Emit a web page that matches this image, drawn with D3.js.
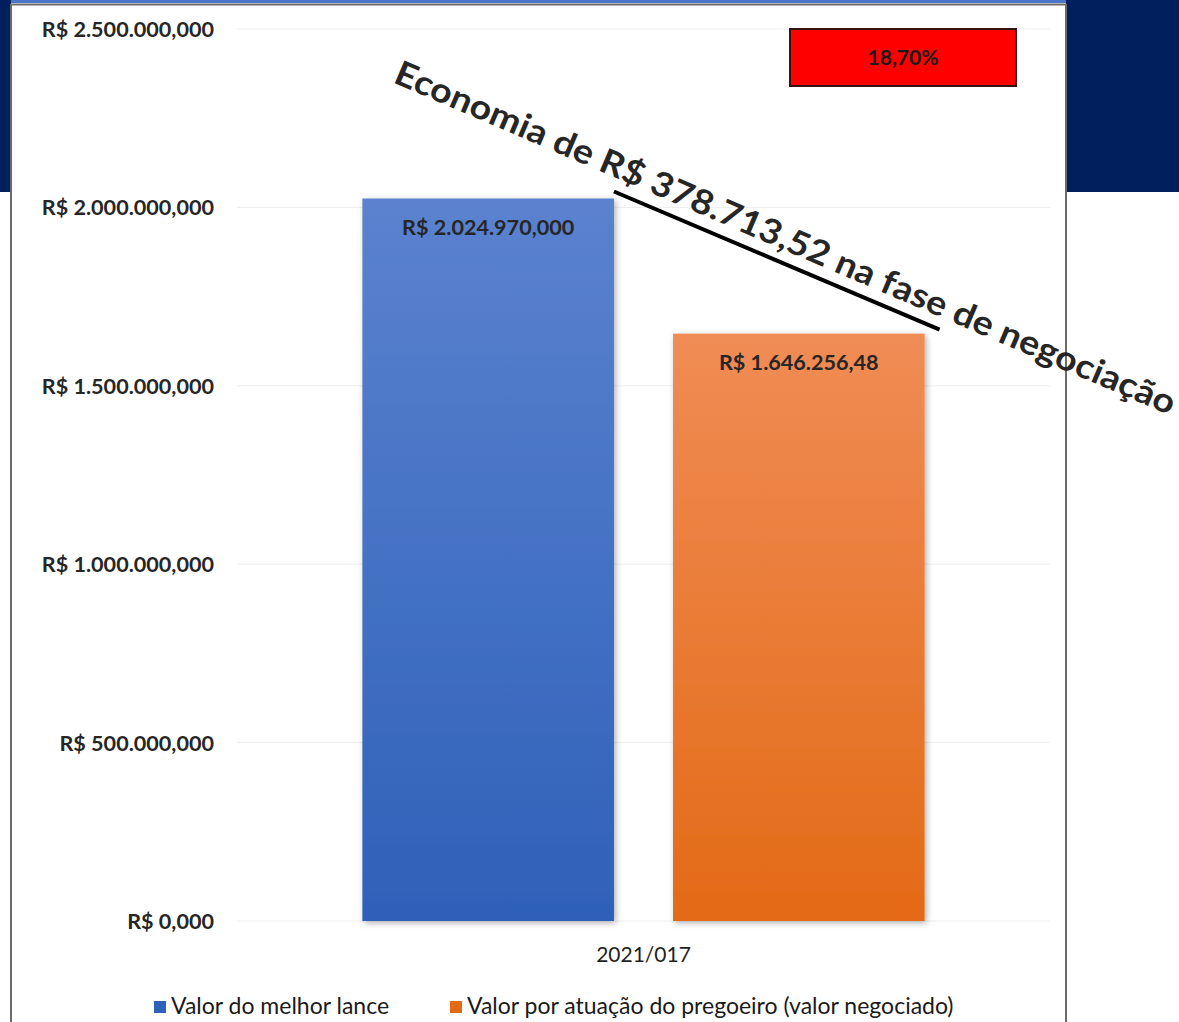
<!DOCTYPE html>
<html>
<head>
<meta charset="utf-8">
<script src="https://cdn.jsdelivr.net/npm/d3@7"></script>
<style>
  body { margin: 0; background: #fff; }
  svg { display: block; font-family: Lato, "Open Sans", sans-serif; }
</style>
</head>
<body>
<div id="chart"></div>
<script>
// chart values
const categories = ["2021/017"];
const seriesNames = ["Valor do melhor lance", "Valor por atuação do pregoeiro (valor negociado)"];
const seriesValues = [2024970000, 1646256480];
const barLabels = ["R$ 2.024.970,000", "R$ 1.646.256,48"];
const yTicks = [0, 500000000, 1000000000, 1500000000, 2000000000, 2500000000];
const yTickLabels = ["R$ 0,000", "R$ 500.000,000", "R$ 1.000.000,000", "R$ 1.500.000,000", "R$ 2.000.000,000", "R$ 2.500.000,000"];
const percentLabel = "18,70%";
const annotation = "Economia de R$ 378.713,52 na fase de negociação";

const W = 1179, H = 1022;
const margin = {top: 29, right: 129, bottom: 101, left: 237};

const svg = d3.select("#chart")
    .append("svg")
        .attr("width", W)
        .attr("height", H);

// background slide pieces
svg.append("rect").attr("x", 0).attr("y", 0).attr("width", W).attr("height", 192).attr("fill", "#001f5c");
svg.append("rect").attr("x", 11).attr("y", 0).attr("width", 1055).attr("height", H).attr("fill", "#fff");
svg.append("rect").attr("x", 11).attr("y", 0).attr("width", 1055).attr("height", 3).attr("fill", "#4a74c9");
svg.append("line").attr("x1", 11).attr("x2", 1066).attr("y1", 4.5).attr("y2", 4.5).attr("stroke", "#6b6b6b").attr("stroke-width", 2);
svg.append("line").attr("x1", 11).attr("x2", 11).attr("y1", 4).attr("y2", H).attr("stroke", "#6b6b6b").attr("stroke-width", 2);
svg.append("line").attr("x1", 1066).attr("x2", 1066).attr("y1", 4).attr("y2", H).attr("stroke", "#6b6b6b").attr("stroke-width", 2);

const defs = svg.append("defs");
const colors = [["#5b82cf", "#2e61b9"], ["#f08c55", "#e36a16"]];
colors.forEach((c, i) => {
    const g = defs.append("linearGradient").attr("id", "grad" + i)
        .attr("x1", 0).attr("y1", 0).attr("x2", 0).attr("y2", 1);
    g.append("stop").attr("offset", "0%").attr("stop-color", c[0]);
    g.append("stop").attr("offset", "100%").attr("stop-color", c[1]);
});
defs.append("filter").attr("id", "shadow")
    .attr("x", "-10%").attr("y", "-10%").attr("width", "120%").attr("height", "120%")
    .append("feDropShadow")
        .attr("dx", 2).attr("dy", 2).attr("stdDeviation", 3)
        .attr("flood-color", "#000").attr("flood-opacity", 0.3);

const innerH = H - margin.top - margin.bottom;

const x0 = d3.scaleBand()
    .domain(categories)
    .range([margin.left, 1050])
    .paddingOuter(0.223);

const x1 = d3.scaleBand()
    .domain(seriesNames)
    .range([0, x0.bandwidth()])
    .paddingInner(0.19);

const y = d3.scaleLinear()
    .domain([0, 2500000000])
    .range([margin.top + innerH, margin.top]);

// gridlines
svg.append("g")
    .selectAll("line")
    .data(yTicks)
    .join("line")
        .attr("x1", margin.left).attr("x2", 1050)
        .attr("y1", d => y(d)).attr("y2", d => y(d))
        .attr("stroke", "#eeeeee").attr("stroke-width", 1);

// y axis
const yAxis = svg.append("g")
    .attr("transform", `translate(${margin.left - 23}, 0)`)
    .call(d3.axisLeft(y).tickValues(yTicks).tickSize(0).tickPadding(0)
        .tickFormat((d, i) => yTickLabels[i]));
yAxis.select(".domain").remove();
yAxis.selectAll("text")
    .attr("font-family", "Lato, sans-serif")
    .attr("font-size", 21.6).attr("font-weight", "bold").attr("fill", "#262626")
    .attr("dy", "0.35em");

// bars
const data = seriesNames.map((s, i) => ({series: s, value: seriesValues[i], label: barLabels[i], i}));
const bars = svg.append("g").attr("transform", `translate(${x0(categories[0])}, 0)`);
bars.selectAll("rect")
    .data(data)
    .join("rect")
        .attr("x", d => x1(d.series))
        .attr("y", d => y(d.value))
        .attr("width", x1.bandwidth())
        .attr("height", d => y(0) - y(d.value))
        .attr("fill", d => `url(#grad${d.i})`)
        .attr("filter", "url(#shadow)");
bars.selectAll("text")
    .data(data)
    .join("text")
        .attr("x", d => x1(d.series) + x1.bandwidth() / 2)
        .attr("y", d => y(d.value) + 29)
        .attr("text-anchor", "middle")
        .attr("dy", "0.35em")
        .attr("font-size", 21.6).attr("font-weight", "bold").attr("fill", "#262626")
        .text(d => d.label);

// x axis
const xAxis = svg.append("g")
    .attr("transform", `translate(0, ${y(0)})`)
    .call(d3.axisBottom(x0).tickSize(0).tickPadding(26));
xAxis.select(".domain").remove();
xAxis.selectAll("text")
    .attr("font-family", "Lato, sans-serif")
    .attr("font-size", 21).attr("fill", "#1f1f1f");

// percent box
svg.append("rect")
    .attr("x", 790).attr("y", 29).attr("width", 226).attr("height", 57)
    .attr("fill", "#ff0000").attr("stroke", "#3a1010").attr("stroke-width", 2);
svg.append("text")
    .attr("x", 903).attr("y", 58).attr("dy", "0.35em")
    .attr("text-anchor", "middle")
    .attr("font-size", 21).attr("font-weight", "bold").attr("fill", "#1a1a1a")
    .text(percentLabel);

// connector line between bar tops
const bx = x0(categories[0]);
svg.append("line")
    .attr("x1", bx + x1(seriesNames[0]) + x1.bandwidth())
    .attr("y1", y(seriesValues[0]) - 7)
    .attr("x2", bx + x1(seriesNames[1]) + x1.bandwidth() + 15)
    .attr("y2", y(seriesValues[1]) - 4)
    .attr("stroke", "#000").attr("stroke-width", 4);

// rotated annotation
svg.append("text")
    .attr("transform", "translate(392, 82) rotate(23.2)")
    .attr("font-size", 34).attr("font-weight", "bold").attr("fill", "#262626")
    .attr("textLength", 846).attr("lengthAdjust", "spacingAndGlyphs")
    .text(annotation);

// legend
const legendX = [154, 450];
const legend = svg.append("g").selectAll("g")
    .data(data)
    .join("g")
        .attr("transform", (d, i) => `translate(${legendX[i]}, 1006)`);
legend.append("rect")
    .attr("x", 0).attr("y", -5).attr("width", 12).attr("height", 12)
    .attr("fill", d => colors[d.i][1]);
legend.append("text")
    .attr("x", 17).attr("y", 0).attr("dy", "0.35em")
    .attr("font-size", 23).attr("fill", "#1a1a1a")
    .text(d => d.series);
</script>
</body>
</html>
